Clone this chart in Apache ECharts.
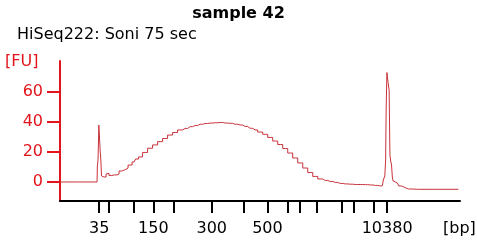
<!DOCTYPE html>
<html>
<head>
<meta charset="utf-8">
<script src="https://cdn.jsdelivr.net/npm/echarts@6/dist/echarts.min.js"></script>
<style>html,body{margin:0;padding:0;background:#fff}#c{width:477px;height:244px}</style>
</head>
<body>
<div id="c"></div>
<script>
// Ladder: fragment sizes (bp) and their migration times (s)
const ladderBp   = [35, 50, 100, 150, 200, 300, 400, 500, 600, 700, 1000, 2000, 3000, 7000, 10380];
const ladderTime = [49.8, 52.3, 58.3, 63.3, 68.3, 77.9, 85.8, 91.8, 96.9, 99.8, 104.2, 110.4, 113.3, 118.3, 121.7];
const labeledBp  = [35, 150, 300, 500, 10380];
const fuTicks    = [0, 20, 40, 60];

// Electropherogram trace: migration time (s) and fluorescence (FU)
const traceTime = [40, 49.25, 49.4, 49.6, 49.8, 50.0, 50.1, 50.25, 50.5, 50.75, 51.25, 51.75, 52, 52.5, 53.25, 54, 54.5,
  55, 55.75, 56.5, 57.5, 58.5, 59.25, 60, 61.25, 62.5, 63.75, 65, 66.25, 67.5, 68.75, 70, 71.25, 72.5, 73.75,
  75, 76.25, 77.5, 78.75, 80, 81.25, 82.5, 83.75, 85, 86.25, 87.5, 88.75, 90, 91.25, 92.5, 93.75, 95, 96.25,
  97.5, 98.75, 100, 101.25, 102.5, 103.75, 105, 106.25, 107.5, 108.75, 110, 111.25, 112.5, 113.75, 115, 116.25,
  117.5, 118.75, 120, 120.5, 121, 121.25, 121.4, 121.5, 121.8, 122.1, 122.3, 122.5, 122.7, 122.9, 123.1, 123.25,
  123.75, 124.25, 125, 125.75, 127, 129.25, 139.5];
const traceFU = [0, 0, 10, 14.7, 38, 28, 20, 16, 4, 3.3, 3.3, 5.3, 5.7, 4.3, 4.7, 4.7, 5.3,
  7.3, 8, 9.3, 11.3, 13.3, 15.3, 16.7, 19.7, 22.5, 24.7, 26.9, 29, 31.3, 33, 34.7, 35.7, 36.9, 37.7,
  38.5, 39, 39.3, 39.5, 39.7, 39.3, 39.1, 38.5, 38, 37, 35.8, 34.7, 33.3, 31.8, 29.7, 27.3, 25, 22.3,
  19.3, 16, 12.7, 9.3, 6.3, 3.7, 2, 1, 0.3, -0.3, -1, -1.3, -1.5, -1.7, -1.7, -1.8,
  -2, -2.3, -2.7, -2.5, 1.3, 4, 14.7, 48, 73, 66, 61.3, 18, 14, 11.3, 3.3, 0.7,
  0, -0.7, -2.7, -4, -4.7, -4.9, -4.9];

const RED = '#e3141c';
const FONT = 'DejaVu Sans';
const chart = echarts.init(document.getElementById('c'), null, {renderer: 'canvas'});
const bpOf = t => { const i = ladderTime.indexOf(t); return i >= 0 ? String(ladderBp[i]) : ''; };

chart.setOption({
  animation: false,
  grid: {left: 60, right: 17, top: 61, bottom: 43},
  xAxis: {
    type: 'value', min: 40, max: 139.9,
    axisLine: {show: true, onZero: false, lineStyle: {color: '#000', width: 2}},
    axisTick: {show: true, length: 12, lineStyle: {color: '#000', width: 2}, customValues: ladderTime},
    axisLabel: {show: true, color: '#000', fontSize: 16, fontFamily: FONT, margin: 20,
      customValues: labeledBp.map(b => ladderTime[ladderBp.indexOf(b)]), formatter: v => bpOf(v)},
    splitLine: {show: false}
  },
  yAxis: {
    type: 'value', min: -12.7, max: 80.7,
    axisLine: {show: true, onZero: false, lineStyle: {color: RED, width: 2}},
    axisTick: {show: true, length: 13, lineStyle: {color: RED, width: 2}, customValues: fuTicks},
    axisLabel: {show: true, color: RED, fontSize: 16, fontFamily: FONT, margin: 17, customValues: fuTicks},
    splitLine: {show: false}
  },
  graphic: [
    {type: 'text', left: 'center', top: 6, style: {text: 'sample 42', font: 'bold 16px "DejaVu Sans"', fill: '#000'}},
    {type: 'text', left: 17, top: 27, style: {text: 'HiSeq222: Soni 75 sec', font: '16px "DejaVu Sans"', fill: '#000'}},
    {type: 'text', left: 5, top: 54, style: {text: '[FU]', font: '16px "DejaVu Sans"', fill: RED}},
    {type: 'text', left: 443, top: 221, style: {text: '[bp]', font: '16px "DejaVu Sans"', fill: '#000'}}
  ],
  series: [{
    type: 'line', step: 'middle', data: traceTime.map((t, i) => [t, traceFU[i]]),
    showSymbol: false, lineStyle: {color: '#c8323a', width: 1}, z: 1
  }]
});
</script>
</body>
</html>
